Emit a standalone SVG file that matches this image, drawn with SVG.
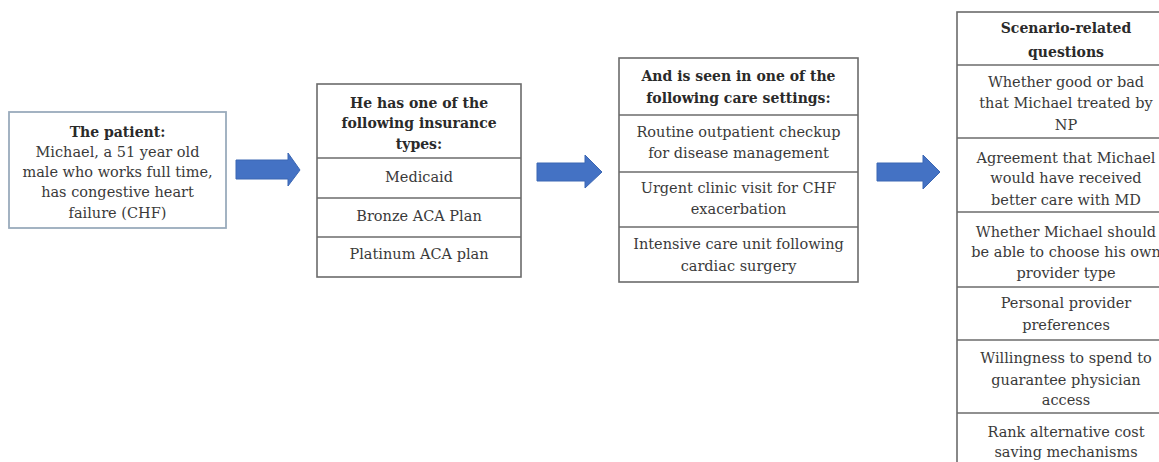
<svg xmlns="http://www.w3.org/2000/svg" width="1159" height="462" viewBox="0 0 1159 462">
<style>
.bg{fill:#ffffff}
.box{fill:#ffffff;stroke:#6b6b6b;stroke-width:1.6}
.box1{fill:#ffffff;stroke:#9aabbc;stroke-width:1.8}
.div{stroke:#6b6b6b;stroke-width:1.6}
text{font-family:"DejaVu Serif","Liberation Serif",serif;font-size:14.5px;fill:#3a3a3a;text-anchor:middle}
.b{font-weight:bold;fill:#2a2a2a;font-size:14px}
.arrow{fill:#4472c4;stroke:#3b66b3;stroke-width:1}
</style>
<rect class="bg" x="0" y="0" width="1159" height="462"/>
<g id="connectors">
<polygon class="arrow" points="236,160 288,160 288,153 300,170 288,186 288,179 236,179"/>
<polygon class="arrow" points="537,163 585,163 585,155 602,172 585,188 585,181 537,181"/>
<polygon class="arrow" points="877,163 923,163 923,155 940,172 923,189 923,181 877,181"/>
</g>
<g id="patient">
<rect class="box1" x="9" y="112" width="217" height="116"/>
<text class="b" x="117.5" y="137">The patient:</text>
<text x="117.5" y="157">Michael, a 51 year old</text>
<text x="117.5" y="177">male who works full time,</text>
<text x="117.5" y="197">has congestive heart</text>
<text x="117.5" y="218">failure (CHF)</text>
</g>
<g id="insurance">
<rect class="box" x="317" y="84" width="204" height="193"/>
<line class="div" x1="317" y1="158" x2="521" y2="158"/>
<line class="div" x1="317" y1="198" x2="521" y2="198"/>
<line class="div" x1="317" y1="237" x2="521" y2="237"/>
<text class="b" x="419" y="108">He has one of the</text>
<text class="b" x="419" y="128">following insurance</text>
<text class="b" x="419" y="149">types:</text>
<text x="419" y="182">Medicaid</text>
<text x="419" y="221">Bronze ACA Plan</text>
<text x="419" y="259">Platinum  ACA plan</text>
</g>
<g id="settings">
<rect class="box" x="619" y="58" width="239" height="224"/>
<line class="div" x1="619" y1="115" x2="858" y2="115"/>
<line class="div" x1="619" y1="172" x2="858" y2="172"/>
<line class="div" x1="619" y1="227" x2="858" y2="227"/>
<text class="b" x="738.5" y="81">And is seen in one of the</text>
<text class="b" x="738.5" y="103">following care settings:</text>
<text x="738.5" y="137">Routine outpatient checkup</text>
<text x="738.5" y="158">for disease management</text>
<text x="738.5" y="193">Urgent clinic visit for CHF</text>
<text x="738.5" y="214">exacerbation</text>
<text x="738.5" y="249">Intensive care unit following</text>
<text x="738.5" y="271">cardiac surgery</text>
</g>
<g id="questions">
<rect class="box" x="957" y="12" width="220" height="470"/>
<line class="div" x1="957" y1="65" x2="1177" y2="65"/>
<line class="div" x1="957" y1="138" x2="1177" y2="138"/>
<line class="div" x1="957" y1="212" x2="1177" y2="212"/>
<line class="div" x1="957" y1="287" x2="1177" y2="287"/>
<line class="div" x1="957" y1="340" x2="1177" y2="340"/>
<line class="div" x1="957" y1="413" x2="1177" y2="413"/>
<text class="b" x="1066" y="33">Scenario-related</text>
<text class="b" x="1066" y="57">questions</text>
<text x="1066" y="87">Whether good or bad</text>
<text x="1066" y="108">that Michael treated by</text>
<text x="1066" y="130">NP</text>
<text x="1066" y="163">Agreement that Michael</text>
<text x="1066" y="183">would have received</text>
<text x="1066" y="205">better care with MD</text>
<text x="1066" y="237">Whether Michael should</text>
<text x="1066" y="257">be able to choose his own</text>
<text x="1066" y="278">provider type</text>
<text x="1066" y="308">Personal provider</text>
<text x="1066" y="330">preferences</text>
<text x="1066" y="363">Willingness to spend to</text>
<text x="1066" y="385">guarantee physician</text>
<text x="1066" y="405">access</text>
<text x="1066" y="437">Rank alternative cost</text>
<text x="1066" y="457">saving mechanisms</text>
</g>
</svg>
